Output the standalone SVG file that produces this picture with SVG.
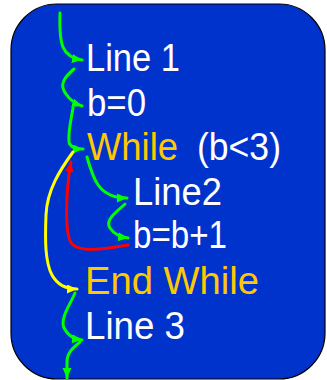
<svg xmlns="http://www.w3.org/2000/svg" width="327" height="380" viewBox="0 0 327 380">
  <style>
    .panel { fill: #0033CC; stroke: #000; stroke-width: 1.2; }
    .txt { font-family: "Liberation Sans", Arial, sans-serif; font-size: 38px; }
    .w { fill: #FFFFFF; }
    .o { fill: #FFC800; }
    .flow { fill: none; stroke-width: 3; stroke-linecap: round; stroke-linejoin: round; }
    .g { stroke: #00FF00; }
    .r { stroke: #FF0000; }
    .y { stroke: #FFFF00; }
  </style>
  <defs>
    <marker id="ahG" markerUnits="userSpaceOnUse" markerWidth="11" markerHeight="10" refX="10" refY="4.5" orient="auto">
      <path d="M0,0 L10,4.5 L0,9 z" fill="#00FF00"/>
    </marker>
    <marker id="ahR" markerUnits="userSpaceOnUse" markerWidth="11" markerHeight="10" refX="10" refY="4.5" orient="auto">
      <path d="M0,0 L10,4.5 L0,9 z" fill="#FF0000"/>
    </marker>
    <marker id="ahY" markerUnits="userSpaceOnUse" markerWidth="11" markerHeight="10" refX="10" refY="4.5" orient="auto">
      <path d="M0,0 L10,4.5 L0,9 z" fill="#FFFF00"/>
    </marker>
  </defs>

  <rect class="panel" x="11" y="4" width="314" height="375" rx="46" ry="46"/>

  <!-- statements -->
  <g id="line1"><text class="txt w" x="86" y="71" textLength="94" lengthAdjust="spacingAndGlyphs">Line 1</text></g>
  <g id="init"><text class="txt w" x="87" y="116" textLength="59" lengthAdjust="spacingAndGlyphs">b=0</text></g>
  <g id="while">
    <text class="txt o" x="87" y="160" textLength="91" lengthAdjust="spacingAndGlyphs">While</text>
    <text class="txt w" x="197" y="160" textLength="84" lengthAdjust="spacingAndGlyphs">(b&lt;3)</text>
  </g>
  <g id="line2"><text class="txt w" x="133" y="205" textLength="89" lengthAdjust="spacingAndGlyphs">Line2</text></g>
  <g id="incr"><text class="txt w" x="133" y="248" textLength="94" lengthAdjust="spacingAndGlyphs">b=b+1</text></g>
  <g id="endwhile"><text class="txt o" x="85" y="294" textLength="174" lengthAdjust="spacingAndGlyphs">End While</text></g>
  <g id="line3"><text class="txt w" x="85" y="339" textLength="100" lengthAdjust="spacingAndGlyphs">Line 3</text></g>

  <!-- control flow -->
  <g id="connectors">
    <path class="flow g" marker-end="url(#ahG)" d="M60,13 C59,45 62,57 82,60"/>
    <path class="flow g" marker-end="url(#ahG)" d="M74,69 C66,76 58,84 66,94 C70,100 76,104 82,106"/>
    <path class="flow g" marker-end="url(#ahG)" d="M73,108 C71,120 68,132 69,142 C70,147 76,149 83,149"/>
    <path class="flow g" marker-end="url(#ahG)" d="M87,157 C93,178 98,198 127,198"/>
    <path class="flow g" marker-end="url(#ahG)" d="M125,204 C118,211 104,220 110,228 C114,234 120,237 128,238"/>
    <path class="flow r" marker-end="url(#ahR)" d="M128,245 C100,250 80,252 72,244 C64,235 66,190 71,162"/>
    <path class="flow y" marker-end="url(#ahY)" d="M73,152 C60,170 47,190 46,215 C45,240 45,262 52,275 C58,286 68,289 77,289"/>
    <path class="flow g" marker-end="url(#ahG)" d="M75,293 C70,305 60,318 64,328 C68,336 74,339 82,340"/>
    <path class="flow g" marker-end="url(#ahG)" d="M80,342 C74,347 67,352 67,362 L67,378"/>
  </g>
</svg>
